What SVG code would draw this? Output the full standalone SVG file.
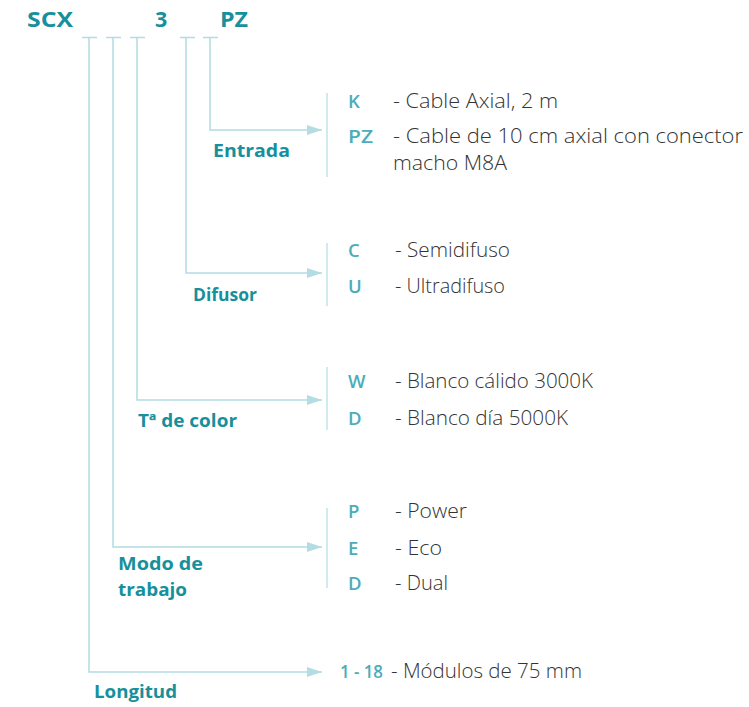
<svg xmlns="http://www.w3.org/2000/svg" width="749" height="707" viewBox="0 0 749 707">
<style>
.code{font-family:"Open Sans","Liberation Sans",sans-serif;font-weight:700;font-size:21.5px;fill:#16909c}
.lbl{font-family:"Open Sans","Liberation Sans",sans-serif;font-weight:700;font-size:18.5px;fill:#16909c}
.key{font-family:"Open Sans","Liberation Sans",sans-serif;font-weight:600;font-size:18.5px;fill:#4aadb9}
.desc{font-family:"Open Sans","Liberation Sans",sans-serif;font-weight:300;font-size:19.5px;fill:#333}
.ln{stroke:#b3dce3;stroke-width:1.5;fill:none}
.sep{stroke:#b3dce3;stroke-width:1.2}
</style>
<defs>
<marker id="ah" markerWidth="15" markerHeight="10" refX="15" refY="5" orient="auto" markerUnits="userSpaceOnUse">
<path d="M0,0 L15,5 L0,10 Z" fill="#b3dce3"/>
</marker>
</defs>
<g id="header">
<text class="code" x="27" y="27" textLength="46" lengthAdjust="spacingAndGlyphs">SCX</text>
<text class="code" x="155" y="27">3</text>
<text class="code" x="220" y="27" textLength="28" lengthAdjust="spacingAndGlyphs">PZ</text>
</g>
<g id="connectors">
<path class="ln" d="M82,37.5 H97 M106,37.5 H121 M130,37.5 H145 M180,37.5 H195 M203,37.5 H218"/>
<path class="ln" d="M210,37.5 V130 H322" marker-end="url(#ah)"/>
<path class="ln" d="M186,37.5 V273 H322" marker-end="url(#ah)"/>
<path class="ln" d="M137,37.5 V400 H322" marker-end="url(#ah)"/>
<path class="ln" d="M113,37.5 V547 H322" marker-end="url(#ah)"/>
<path class="ln" d="M89,37.5 V672 H322" marker-end="url(#ah)"/>
<line class="sep" x1="327" y1="93" x2="327" y2="177"/>
<line class="sep" x1="327" y1="243" x2="327" y2="306"/>
<line class="sep" x1="327" y1="367" x2="327" y2="430"/>
<line class="sep" x1="327" y1="508" x2="327" y2="588"/>
</g>
<g id="entrada">
<text class="lbl" x="213" y="157" textLength="77" lengthAdjust="spacingAndGlyphs">Entrada</text>
<text class="key" x="348" y="108">K</text>
<text class="desc" x="393" y="108" textLength="165" lengthAdjust="spacingAndGlyphs">- Cable Axial, 2 m</text>
<text class="key" x="348" y="143" textLength="25" lengthAdjust="spacingAndGlyphs">PZ</text>
<text class="desc" x="393" y="143" textLength="350" lengthAdjust="spacingAndGlyphs">- Cable de 10 cm axial con conector</text>
<text class="desc" x="393" y="170" textLength="114" lengthAdjust="spacingAndGlyphs">macho M8A</text>
</g>
<g id="difusor">
<text class="lbl" x="193" y="301" textLength="64" lengthAdjust="spacingAndGlyphs">Difusor</text>
<text class="key" x="348" y="257">C</text>
<text class="desc" x="395" y="257" textLength="115" lengthAdjust="spacingAndGlyphs">- Semidifuso</text>
<text class="key" x="348" y="293">U</text>
<text class="desc" x="395" y="293" textLength="110" lengthAdjust="spacingAndGlyphs">- Ultradifuso</text>
</g>
<g id="color">
<text class="lbl" x="138" y="427" textLength="99" lengthAdjust="spacingAndGlyphs">Tª de color</text>
<text class="key" x="348" y="388">W</text>
<text class="desc" x="395" y="388" textLength="198" lengthAdjust="spacingAndGlyphs">- Blanco cálido 3000K</text>
<text class="key" x="348" y="425">D</text>
<text class="desc" x="395" y="425" textLength="173" lengthAdjust="spacingAndGlyphs">- Blanco día 5000K</text>
</g>
<g id="modo">
<text class="lbl" x="118" y="570" textLength="85" lengthAdjust="spacingAndGlyphs">Modo de</text>
<text class="lbl" x="118" y="596" textLength="69" lengthAdjust="spacingAndGlyphs">trabajo</text>
<text class="key" x="348" y="518">P</text>
<text class="desc" x="395" y="518" textLength="72" lengthAdjust="spacingAndGlyphs">- Power</text>
<text class="key" x="348" y="555">E</text>
<text class="desc" x="395" y="555" textLength="47" lengthAdjust="spacingAndGlyphs">- Eco</text>
<text class="key" x="348" y="590">D</text>
<text class="desc" x="395" y="590" textLength="53" lengthAdjust="spacingAndGlyphs">- Dual</text>
</g>
<g id="longitud">
<text class="lbl" x="94" y="698" textLength="83" lengthAdjust="spacingAndGlyphs">Longitud</text>
<text class="key" x="340" y="678" textLength="43" lengthAdjust="spacingAndGlyphs">1 - 18</text>
<text class="desc" x="391" y="678" textLength="191" lengthAdjust="spacingAndGlyphs">- Módulos de 75 mm</text>
</g>
</svg>
